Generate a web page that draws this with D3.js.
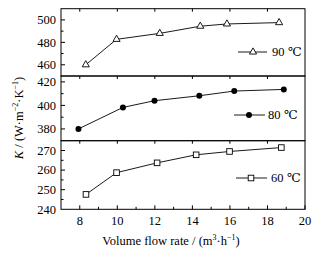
<!DOCTYPE html>
<html>
<head>
<meta charset="utf-8">
<script src="https://cdn.jsdelivr.net/npm/d3@7"></script>
<style>
  body { margin: 0; background: #fff; }
  text { font-family: "Liberation Serif", "DejaVu Serif", serif; fill: #000; }
</style>
</head>
<body>
<div class="chart"></div>
<script>
// flow rate (m3/h) and heat transfer coefficient K for each temperature
const flow90 = [8.32, 9.96, 12.26, 14.42, 15.84, 18.62]
const k90 = [460, 482.7, 488, 494.4, 496.4, 497.6]
const flow80 = [7.93, 10.3, 11.98, 14.37, 16.23, 18.87]
const k80 = [380, 398.3, 404, 408.2, 412.2, 413.6]
const flow60 = [8.33, 9.96, 12.12, 14.2, 15.98, 18.74]
const k60 = [247.6, 258.7, 263.7, 267.8, 269.5, 271.5]
const xTicks = [8, 10, 12, 14, 16, 18, 20]

const width = 332, height = 256
const left = 61, right = 305

const svg = d3.select('.chart')
  .append('svg')
    .attr('width', width)
    .attr('height', height)

const xScale = d3.scaleLinear().domain([7, 20]).range([left, right])

const panels = [
  { flow: flow90, k: k90, domain: [450, 510], ticks: [460, 480, 500], minor: 10, top: 8.7, bottom: 76, marker: 'triangle', label: '90 ℃', legendY: 52, lx: [238, 267], mx: 253, tx: 272 },
  { flow: flow80, k: k80, domain: [370, 425], ticks: [380, 400, 420], minor: 10, top: 76, bottom: 140.7, marker: 'dot', label: '80 ℃', legendY: 115, lx: [234, 265], mx: 249, tx: 268 },
  { flow: flow60, k: k60, domain: [240, 275], ticks: [240, 250, 260, 270], minor: 5, top: 140.7, bottom: 209.3, marker: 'square', label: '60 ℃', legendY: 178, lx: [236, 267], mx: 251, tx: 271 }
]

const drawMarker = (g, type, x, y) => {
  if (type === 'triangle') {
    g.append('path')
      .attr('d', d3.symbol(d3.symbolTriangle, 22)())
      .attr('transform', `translate(${x},${y})`)
      .attr('fill', '#fff').attr('stroke', '#000').attr('stroke-width', 0.9)
  } else if (type === 'dot') {
    g.append('circle')
      .attr('cx', x).attr('cy', y).attr('r', 3)
      .attr('fill', '#000')
  } else {
    g.append('rect')
      .attr('x', x - 2.8).attr('y', y - 2.8)
      .attr('width', 5.6).attr('height', 5.6)
      .attr('fill', '#fff').attr('stroke', '#000').attr('stroke-width', 0.9)
  }
}

panels.forEach((p) => {
  const yScale = d3.scaleLinear().domain(p.domain).range([p.bottom, p.top])
  const g = svg.append('g')

  // minor + major y ticks, inward
  const minorVals = d3.range(p.domain[0], p.domain[1] + 0.01, p.minor)
    .filter(v => v > p.domain[0] && v < p.domain[1])
  g.selectAll('line.ytick')
    .data(minorVals)
    .enter()
    .append('line')
      .attr('x1', left)
      .attr('x2', d => left + (p.ticks.includes(d) ? 4 : 2.5))
      .attr('y1', d => yScale(d))
      .attr('y2', d => yScale(d))
      .attr('stroke', '#000')

  g.selectAll('text.ylab')
    .data(p.ticks)
    .enter()
    .append('text')
      .attr('x', left - 5)
      .attr('y', d => yScale(d))
      .attr('dy', '0.35em')
      .attr('text-anchor', 'end')
      .style('font-size', '12.5px')
      .text(d => d)

  // x ticks on the top edge of each panel, pointing down
  g.selectAll('line.xtop')
    .data(xTicks.slice(0, -1))
    .enter()
    .append('line')
      .attr('x1', d => xScale(d)).attr('x2', d => xScale(d))
      .attr('y1', p.top).attr('y2', p.top + 3)
      .attr('stroke', '#000')

  // series line and markers
  const pts = p.flow.map((f, i) => [xScale(f), yScale(p.k[i])])
  g.append('path')
    .attr('d', d3.line()(pts))
    .attr('fill', 'none')
    .attr('stroke', '#000')
    .attr('stroke-width', 0.9)
  pts.forEach(([x, y]) => drawMarker(g, p.marker, x, y))

  // legend
  g.append('line')
    .attr('x1', p.lx[0]).attr('x2', p.lx[1])
    .attr('y1', p.legendY).attr('y2', p.legendY)
    .attr('stroke', '#000').attr('stroke-width', 0.9)
  drawMarker(g, p.marker, p.mx, p.legendY)
  g.append('text')
    .attr('x', p.tx)
    .attr('y', p.legendY)
    .attr('dy', '0.35em')
    .style('font-size', '12.5px')
    .text(p.label)

  // panel frame
  g.append('rect')
    .attr('x', left).attr('y', p.top)
    .attr('width', right - left).attr('height', p.bottom - p.top)
    .attr('fill', 'none').attr('stroke', '#000').attr('stroke-width', 1)
})

// bottom x axis ticks (major and minor, pointing up)
const xBottom = 209.3
svg.append('g')
  .selectAll('line')
  .data(d3.range(8, 20.01, 1))
  .enter()
  .append('line')
    .attr('x1', d => xScale(d)).attr('x2', d => xScale(d))
    .attr('y1', xBottom)
    .attr('y2', d => xBottom - (d % 2 === 0 ? 4 : 2.5))
    .attr('stroke', '#000')

svg.append('g')
  .selectAll('text')
  .data(xTicks)
  .enter()
  .append('text')
    .attr('x', d => xScale(d))
    .attr('y', 225)
    .attr('text-anchor', 'middle')
    .style('font-size', '12.5px')
    .text(d => d)

// axis titles
const xTitle = svg.append('text')
  .attr('x', 171)
  .attr('y', 245)
  .attr('text-anchor', 'middle')
  .style('font-size', '12.5px')
xTitle.append('tspan').text('Volume flow rate / (m')
xTitle.append('tspan').attr('dy', -5).style('font-size', '8px').text('3')
xTitle.append('tspan').attr('dy', 5).text('·h')
xTitle.append('tspan').attr('dy', -5).style('font-size', '8px').text('−1')
xTitle.append('tspan').attr('dy', 5).text(')')

const yTitle = svg.append('text')
  .attr('transform', 'translate(23, 118) rotate(-90)')
  .attr('text-anchor', 'middle')
  .style('font-size', '12.5px')
yTitle.append('tspan').style('font-style', 'italic').text('K')
yTitle.append('tspan').text(' / (W·m')
yTitle.append('tspan').attr('dy', -5).style('font-size', '8px').text('−2')
yTitle.append('tspan').attr('dy', 5).text('·K')
yTitle.append('tspan').attr('dy', -5).style('font-size', '8px').text('−1')
yTitle.append('tspan').attr('dy', 5).text(')')
</script>
</body>
</html>
